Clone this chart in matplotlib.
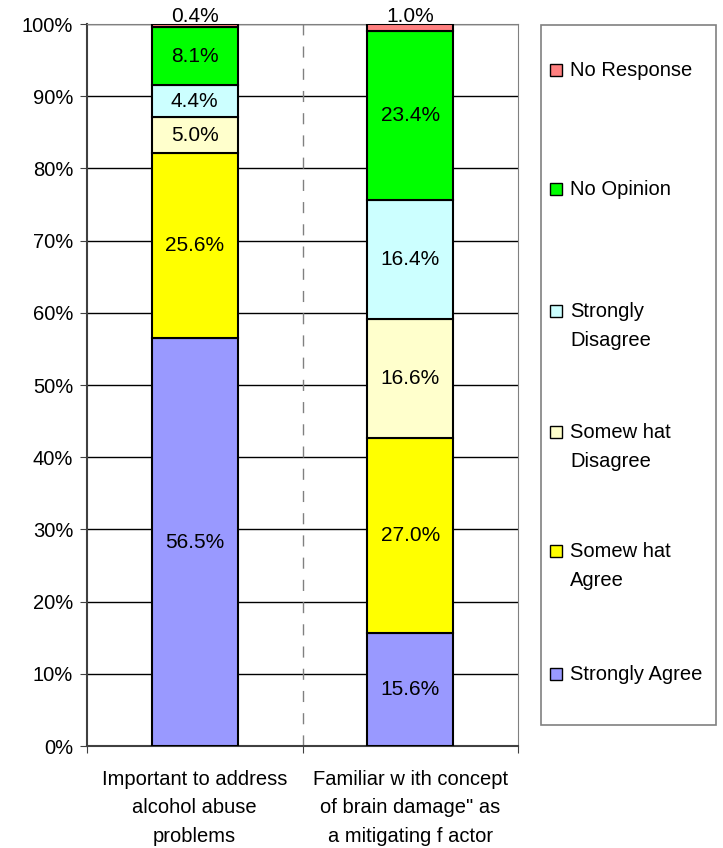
import matplotlib.pyplot as plt
from matplotlib.patches import Rectangle

plt.rcParams['font.family'] = ['Liberation Sans', 'DejaVu Sans']

# data
categories = ['Important to address\nalcohol abuse\nproblems',
              'Familiar w ith concept\nof brain damage" as\na mitigating f actor']
series = ['Strongly Agree', 'Somew hat\nAgree', 'Somew hat\nDisagree',
          'Strongly\nDisagree', 'No Opinion', 'No Response']
colors = ['#9999FF', '#FFFF00', '#FFFFCC', '#CCFFFF', '#00FF00', '#FF8080']
values = [
    [56.5, 15.6],   # Strongly Agree
    [25.6, 27.0],   # Somewhat Agree
    [5.0, 16.6],    # Somewhat Disagree
    [4.4, 16.4],    # Strongly Disagree
    [8.1, 23.4],    # No Opinion
    [0.4, 1.0],     # No Response
]

FS = 14.5

fig = plt.figure(figsize=(7.23, 8.48), dpi=100)
ax = fig.add_axes([87 / 723, 1 - 746 / 848, 431 / 723, 722 / 848])

x = [0, 1]
bottoms = [0.0, 0.0]
for vals, col in zip(values, colors):
    ax.bar(x, vals, width=0.4, bottom=bottoms, color=col,
           edgecolor='black', linewidth=1.5, zorder=3)
    for i, v in enumerate(vals):
        if v < 2:
            ypos = 101.0
        else:
            ypos = bottoms[i] + v / 2
        ax.text(x[i], ypos, f'{v:.1f}%', ha='center', va='center',
                fontsize=FS + 0.5, zorder=4, clip_on=False)
    bottoms = [b + v for b, v in zip(bottoms, vals)]

ax.set_xlim(-0.5, 1.5)
ax.set_ylim(0, 100)
ax.set_yticks(range(0, 101, 10))
ax.set_yticklabels([f'{t}%' for t in range(0, 101, 10)], fontsize=FS)
ax.yaxis.grid(True, color='black', linewidth=1)
ax.set_axisbelow(True)

# category ticks at boundaries
ax.set_xticks([-0.5, 0.5, 1.5])
ax.set_xticklabels([])
ax.set_xticks(x, minor=True)
ax.set_xticklabels(categories, minor=True, fontsize=FS, linespacing=1.65)
ax.tick_params(axis='x', which='minor', length=0, pad=17)
ax.tick_params(axis='x', which='major', length=5, color='#404040')
ax.tick_params(axis='y', length=5, color='#404040', pad=5)
ax.axvline(0.5, color='#808080', linestyle=(0, (8, 8)), linewidth=1, zorder=1)

for s in ['top', 'right']:
    ax.spines[s].set_color('#808080')
ax.spines['left'].set_color('#404040')
ax.spines['bottom'].set_color('#404040')
ax.spines['left'].set_linewidth(1.5)
ax.spines['bottom'].set_linewidth(1.5)

# legend box, drawn by hand to keep Excel spacing
W, H = 723, 848
fig.add_artist(Rectangle((541 / W, 1 - 725 / H), 175 / W, 700 / H,
                         transform=fig.transFigure, facecolor='white',
                         edgecolor='#808080', linewidth=1.2))
legend_top = [70, 189, 311, 432, 551, 674]
for name, col, ytop in zip(series[::-1], colors[::-1], legend_top):
    fig.add_artist(Rectangle((550 / W, 1 - (ytop + 6) / H), 12 / W, 12 / H,
                             transform=fig.transFigure, facecolor=col,
                             edgecolor='black', linewidth=1))
    fig.text(570 / W, 1 - (ytop - 9) / H, name, fontsize=FS, va='top',
             ha='left', linespacing=1.65)

fig.savefig('out.png', dpi=100)
